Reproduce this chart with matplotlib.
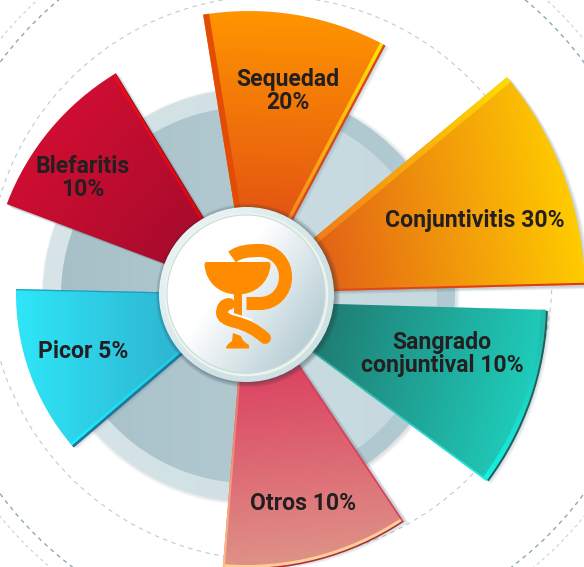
import numpy as np
import matplotlib
matplotlib.use("Agg")
import matplotlib.pyplot as plt
from matplotlib.colors import to_rgb
from matplotlib.patches import Circle, Polygon, Wedge, PathPatch
from matplotlib.path import Path as MPath

W, H = 584, 567

labels = ["Sequedad\n20%", "Conjuntivitis 30%", "Sangrado\nconjuntival 10%", "Otros 10%", "Picor 5%", "Blefaritis\n10%"]
percent = [20, 30, 10, 10, 5, 10]
# angles and lengths of the sectors (they do not follow the percentages)
start_deg = [62.1, 1.4, -36.5, -94.7, 178.8, 121.3]
end_deg = [99.2, 39.8, -1.6, -56.3, 220.5, 159.3]
radius_px = [287, 337, 300, 283, 233, 260]
apex_px = [(249, 298), (248, 293), (246, 301.5), (246, 285), (249, 294), (250, 296)]
label_px = [(288, 91), (475, 220), (442, 354), (303, 503), (83, 352), (83, 178)]
grad_from = ["#D93C1A", "#DA421E", "#1F5F58", "#D92050", "#2E9FC0", "#970A2A"]
grad_to = ["#FF9500", "#FFCC00", "#1FCDBB", "#DF9388", "#2EE6F8", "#CF0E32"]
grad_deg = [88, 10, -15, -85, 180, 140]


def py(y):
    return H - y


fig = plt.figure(figsize=(W / 100, H / 100), dpi=100)
ax = fig.add_axes([0, 0, 1, 1])
X, Y = np.meshgrid(np.arange(W) + 0.5, np.arange(H) + 0.5)


def grad_fill(patch, c0, c1, deg, anchor, length, z):
    # linear gradient over the whole canvas, clipped to the patch
    a = np.radians(deg)
    t = ((X - anchor[0]) * np.cos(a) + (Y - anchor[1]) * np.sin(a)) / length
    t = np.clip(t, 0, 1)[..., None]
    img = np.array(to_rgb(c0)) * (1 - t) + np.array(to_rgb(c1)) * t
    im = ax.imshow(img, extent=(0, W, 0, H), origin="lower", zorder=z, interpolation="bilinear", aspect="auto")
    patch.set_transform(ax.transData)
    im.set_clip_path(patch)
    return im


def band(center, r, ang, width, side):
    # strip of constant width along a straight sector edge, side=+1 goes counter-clockwise
    a = np.radians(ang)
    n = np.array([-np.sin(a), np.cos(a)]) * side
    c = np.array(center)
    delta = np.arcsin(width / r) * side
    arc = [c + r * np.array([np.cos(a + d), np.sin(a + d)]) for d in np.linspace(delta, 0, 6)]
    return Polygon([c, c + n * width] + arc + [c], closed=True)


def dashed_circle(cx, cy, r, color, lw, dash):
    ax.add_patch(Circle((cx, py(cy)), r, fill=False, ec=color, lw=lw, ls=(0, dash), zorder=1))


dashed_circle(270, 278, 282, "#B9CFD2", 0.8, (4, 4))
dashed_circle(292, 278, 363, "#8FA9B2", 1.0, (3, 3))
dashed_circle(292, 278, 377, "#C3D5D8", 0.8, (3, 3))

# background disc behind the sectors
disc_c = (249, py(295))
for k in range(5):
    ax.add_patch(Circle((disc_c[0] + 1.5, disc_c[1] - 1), 206 + k * 0.8, fc="#6F8A94", alpha=0.05, ec="none", zorder=2))
bg_spans = [(-75, 80), (80, 285)]
bg_outer = [("#AAC5CD", "#B2CBD2"), ("#D8E5E8", "#C6DADE")]
bg_inner = [("#CCDEE3", "#C6D9DE"), ("#A7C0C8", "#BCD1D7")]
for (t1, t2), oc, ic in zip(bg_spans, bg_outer, bg_inner):
    grad_fill(Wedge(disc_c, 206, t1, t2), oc[0], oc[1], 0, (43, 0), 420, 3)
    grad_fill(Wedge(disc_c, 188, t1, t2), ic[0], ic[1], 0, (60, 0), 380, 4)

# soft shadows under the sectors
for s, e, r, apex in zip(start_deg, end_deg, radius_px, apex_px):
    c = (apex[0], py(apex[1]))
    for k in range(1, 6):
        ax.add_patch(Wedge((c[0] + k * 1.0, c[1] - k * 0.6), r, s - 0.2, e + 0.2, fc="#4F6F7A", ec="none", alpha=0.07, zorder=5))

# sectors
for i in range(len(labels)):
    c = (apex_px[i][0], py(apex_px[i][1]))
    r = radius_px[i]
    s, e = start_deg[i], end_deg[i]
    a = np.radians(grad_deg[i])
    # gradient runs over the sector's projected extent
    corners = np.array([[0, 0]] + [[r * np.cos(np.radians(t)), r * np.sin(np.radians(t))] for t in np.linspace(s, e, 9)])
    proj = corners @ np.array([np.cos(a), np.sin(a)])
    anchor = (c[0] + proj.min() * np.cos(a), c[1] + proj.min() * np.sin(a))
    grad_fill(Wedge(c, r, s, e), grad_from[i], grad_to[i], grad_deg[i], anchor, proj.max() - proj.min(), 6)

    if i == 0:  # Sequedad
        ax.add_patch(band(c, r, e, 6, -1)).set(fc="#E34C05", ec="none", zorder=7)
        grad_fill(band(c, r, s, 3.5, 1), "#F0602A", "#FFE600", 62, (c[0], c[1]), r, 7)
        ax.add_patch(band(c, r, s, 2.5, -1)).set(fc="#DA4620", ec="none", zorder=5.5)
    elif i == 1:  # Conjuntivitis
        grad_fill(band(c, r, e, 6, -1), "#EE5A25", "#FFDD00", e, (c[0], c[1]), r, 7)
        grad_fill(band(c, r, s, 2, 1), "#E8501C", "#E2341C", 0, (c[0], c[1]), r, 7)
    elif i == 2:  # Sangrado
        grad_fill(Wedge(c, r, s, e, width=5), "#1FBDAE", "#12F5E6", -72, (c[0] + 299, c[1] - 30), 130, 7)
        ax.add_patch(Wedge(c, r + 2, s, e - 0.2, width=2)).set(fc="#1F5F58", ec="none", zorder=7)
        grad_fill(band(c, r, s, 1.5, -1), "#2A8C80", "#14F0E0", s, (c[0], c[1]), r, 7)
    elif i == 3:  # Otros
        ax.add_patch(Wedge(c, r, s, e, width=3)).set(fc="#FFCF93", ec="none", zorder=7)
        ax.add_patch(Wedge(c, r + 1.5, s, e, width=1.5)).set(fc="#B0283A", ec="none", zorder=7)
        grad_fill(band(c, r, s, 2, 1), "#E24A5E", "#FFBE85", s, (c[0], c[1]), r, 7)
        ax.add_patch(band(c, r, e, 1.5, -1)).set(fc="#D9395A", ec="none", zorder=7)
    elif i == 4:  # Picor
        grad_fill(band(c, r, e, 2.5, -1), "#18B8D8", "#17F0FF", e, (c[0], c[1]), r, 7)
        ax.add_patch(band(c, r, e, 3, 1)).set(fc="#22789A", ec="none", zorder=5.5)
        ax.add_patch(band(c, r, s, 1.2, 1)).set(fc="#1F9CBB", ec="none", zorder=7)
    elif i == 5:  # Blefaritis
        grad_fill(band(c, r, s, 2.5, 1), "#E00000", "#FA0A10", s, (c[0], c[1]), r, 7)
        ax.add_patch(band(c, r, s, 1.2, -1)).set(fc="#8E0C20", ec="none", zorder=7)

    ax.text(label_px[i][0], py(label_px[i][1]), labels[i], ha="center", va="center", ma="center",
            family="Roboto", weight="bold", fontsize=16.6,
            color="#231F20", linespacing=1.0, zorder=9)

# middle badge
bc = (246.5, py(294.5))
for k in range(6):
    ax.add_patch(Circle((bc[0] + 1.5, bc[1] - 1), 88 + k * 0.8, fc="#20373F", alpha=0.07, ec="none", zorder=10))
grad_fill(Circle(bc, 87.5), "#E9F3F4", "#CFE1E5", -45, (bc[0] - 62, bc[1] + 62), 124, 11)
ax.add_patch(Circle(bc, 80.5, fill=False, ec="#EDF5EA", lw=1.8, zorder=12))
grad_fill(Circle((bc[0] - 0.5, bc[1] + 0.5), 79), "#FFFFFF", "#B9CFD6", -35, (bc[0] - 20, bc[1] + 14), 100, 12)
ax.add_patch(Circle((bc[0] - 0.5, bc[1] + 0.5), 79, fill=False, ec="#C9DBDF", lw=0.8, zorder=12))

# bowl and serpent icon, in picture pixels
ICON = "#FF8C00"


def ipath(verts, codes):
    return MPath([(x, py(y)) for x, y in verts], codes)


M, L, C3, C4, Z = MPath.MOVETO, MPath.LINETO, MPath.CURVE3, MPath.CURVE4, MPath.CLOSEPOLY
bowl = ipath([(207, 262), (268, 262), (270.7, 262), (270.5, 265), (269, 283), (255, 294.5), (237.5, 294.5),
              (220, 294.5), (206, 283), (204.5, 265), (204.3, 262), (207, 262), (207, 262)],
             [M, L, C3, C3, C4, C4, C4, C4, C4, C4, C3, C3, Z])
ax.add_patch(PathPatch(bowl, fc=ICON, ec="none", zorder=13))
stem = ipath([(233.5, 290), (242, 290), (242, 316), (233.5, 316), (233.5, 290)], [M, L, L, L, Z])
ax.add_patch(PathPatch(stem, fc=ICON, ec="none", zorder=13))
base = ipath([(233, 333), (241, 336), (242, 341), (249, 345), (249, 348.5), (226, 348.5), (226, 345), (232, 341), (233, 333), (233, 333)],
             [M, L, C3, C3, L, L, C3, C3, L, Z])
ax.add_patch(PathPatch(base, fc=ICON, ec="none", zorder=13))
# upper serpent, arc round the cup
snake_up = ipath([(232, 257), (240, 251), (250, 250.5), (260, 250.5), (274.5, 250.5), (285.5, 262), (285.5, 277),
                  (285.5, 292), (274.5, 303.5), (260, 303.5), (246.5, 303.5)],
                 [M, C4, C4, C4, C4, C4, C4, C4, C4, C4, L])
ax.add_patch(PathPatch(snake_up, fc="none", ec=ICON, lw=9.4, capstyle="butt", joinstyle="round", zorder=13))
halo = ipath([(229, 319), (240, 322), (250, 326)], [M, C3, C3])
ax.add_patch(PathPatch(halo, fc="none", ec="white", lw=10, capstyle="butt", zorder=13.5))
snake_low = ipath([(229, 304), (222, 304.5), (222, 313), (222, 319), (235, 322), (252, 326), (265, 338)],
                  [M, C3, C3, C3, C3, C3, C3])
ax.add_patch(PathPatch(snake_low, fc="none", ec=ICON, lw=8.6, capstyle="round", joinstyle="round", zorder=14))

ax.set_xlim(0, W)
ax.set_ylim(0, H)
ax.axis("off")
fig.savefig("out.png", dpi=100, facecolor="white")
